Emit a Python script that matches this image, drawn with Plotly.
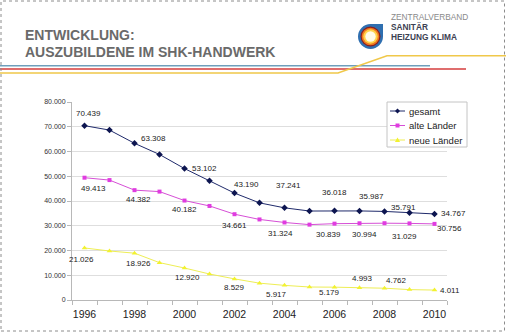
import plotly.graph_objects as go

# ---------------- data ----------------
years = list(range(1996, 2011))
gesamt = [70439, 68650, 63308, 58800, 53102, 48200, 43190, 39250, 37241, 35950, 36018, 35987, 35791, 35300, 34767]
alte = [49413, 48450, 44382, 43800, 40182, 38000, 34661, 32550, 31324, 30450, 30839, 30994, 31029, 30950, 30756]
neue = [21026, 19800, 18926, 15100, 12920, 10500, 8529, 6800, 5917, 5250, 5179, 4993, 4762, 4200, 4011]
label_years = [1996, 1998, 2000, 2002, 2004, 2006, 2007, 2008, 2010]
x_tick_labels = ["1996", "1998", "2000", "2002", "2004", "2006", "2008", "2010"]
y_ticks = [0, 10000, 20000, 30000, 40000, 50000, 60000, 70000, 80000]
title_lines = ["ENTWICKLUNG:", "AUSZUBILDENE IM SHK-HANDWERK"]
logo_lines = ["ZENTRALVERBAND", "SANITÄR", "HEIZUNG KLIMA"]

# ---------------- layout helpers ----------------
W, H = 506, 332
L, R, T, B = 72, 447, 102, 300


def px_x(p):
    return (p - L) / (R - L)


def px_y(p):
    return (B - p) / (B - T)


def de(v):
    return f"{v:,}".replace(",", ".")


FONT = "Liberation Sans, Arial, sans-serif"

fig = go.Figure()

series = [
    ("gesamt", gesamt, "#1f2a6b", "#0d1550", "diamond", 5),
    ("alte Länder", alte, "#d64fd6", "#e03ce0", "square", 4),
    ("neue Länder", neue, "#eeee55", "#f2f230", "triangle-up", 5),
]
for name, vals, lc, mc, sym, ms in series:
    fig.add_trace(go.Scatter(
        x=years, y=vals, name=name, mode="lines+markers",
        line=dict(color=lc, width=1),
        marker=dict(symbol=sym, size=ms, color=mc, line=dict(width=0)),
        showlegend=False,
    ))

# data labels: offsets in pixels (xshift, yshift)
offsets = {
    "gesamt": [(4, 12), (19, 5), (20, 0), (12, 9), (4, 22), (0, 18), (12, 14), (19, 4), (19, 0)],
    "alte Länder": [(9, -11), (4, -9), (0, -9), (0, -11), (-4, -11), (-6, -11), (5, -11), (20, -13), (15, -5)],
    "neue Länder": [(-3, -12), (4, -10), (3, -9), (0, -9), (-8, -9), (-5, -5), (3, 9), (12, 8), (15, 0)],
}
annotations = []
for name, vals, *_ in series:
    for yr, (dx, dy) in zip(label_years, offsets[name]):
        v = vals[years.index(yr)]
        annotations.append(dict(
            x=yr, y=v, xref="x", yref="y", text=de(v), showarrow=False,
            xshift=dx, yshift=dy, font=dict(family=FONT, size=8, color="#222222"),
        ))

# header title
for i, line in enumerate(title_lines):
    annotations.append(dict(
        x=px_x(23), y=px_y(35 + 17 * i), xref="paper", yref="paper",
        xanchor="left", yanchor="middle", text=f"<b>{line}</b>", showarrow=False,
        font=dict(family=FONT, size=14, color="#6a6a6a"),
    ))

# logo text
logo_styles = [("#8a8a8a", False), ("#3c4152", True), ("#3c4152", True)]
for i, (line, (col, bold)) in enumerate(zip(logo_lines, logo_styles)):
    annotations.append(dict(
        x=px_x(389), y=px_y(17 + 10 * i), xref="paper", yref="paper",
        xanchor="left", yanchor="middle",
        text=f"<b>{line}</b>" if bold else line, showarrow=False,
        font=dict(family=FONT, size=8.3, color=col),
    ))

shapes = []


def circle(cx, cy, r, color):
    return dict(type="circle", xref="paper", yref="paper",
                x0=px_x(cx - r), x1=px_x(cx + r), y0=px_y(cy + r), y1=px_y(cy - r),
                fillcolor=color, line=dict(width=0), layer="above")


cx, cy = 370.5, 36.5
shapes.append(dict(type="rect", xref="paper", yref="paper",
                   x0=px_x(cx), x1=px_x(cx + 12.5), y0=px_y(cy), y1=px_y(cy - 12.5),
                   fillcolor="#2f6fb0", line=dict(width=0), layer="above"))
shapes.append(circle(cx, cy, 12.5, "#2f6fb0"))
shapes.append(circle(cx, cy, 10, "#8a1f1f"))
shapes.append(circle(cx, cy, 8.8, "#f07a1e"))
shapes.append(circle(cx, cy, 7.2, "#ffd24a"))
shapes.append(circle(cx, cy, 5.2, "#fffbe8"))

# header lines
shapes.append(dict(type="line", xref="paper", yref="paper",
                   x0=px_x(0), x1=px_x(430), y0=px_y(65.7), y1=px_y(65.7),
                   line=dict(color="#6f9fbc", width=1.6), layer="above"))
shapes.append(dict(type="line", xref="paper", yref="paper",
                   x0=px_x(0), x1=px_x(466), y0=px_y(69), y1=px_y(69),
                   line=dict(color="#d43c3c", width=1.4), layer="above"))
yl_pts = [(0, 73), (338, 73), (387, 55.7), (506, 55.7)]
path = "M " + " L ".join(f"{px_x(a)},{px_y(b)}" for a, b in yl_pts)
shapes.append(dict(type="path", xref="paper", yref="paper", path=path,
                   line=dict(color="#f0c84a", width=1.6), layer="above"))

# dotted frame
shapes.append(dict(type="rect", xref="paper", yref="paper",
                   x0=px_x(1), x1=px_x(504.5), y0=px_y(331), y1=px_y(1),
                   line=dict(color="#8c8c8c", width=1, dash="dot"), layer="above"))

# legend (drawn manually to match the compact reference legend)
shapes.append(dict(type="rect", xref="paper", yref="paper",
                   x0=px_x(387), x1=px_x(467), y0=px_y(147), y1=px_y(102),
                   fillcolor="white", line=dict(color="#c4c4c4", width=1), layer="above"))
for i, (name, vals, lc, mc, sym, ms) in enumerate(series):
    ly = 111 + 14.5 * i
    shapes.append(dict(type="line", xref="paper", yref="paper",
                       x0=px_x(390), x1=px_x(405), y0=px_y(ly), y1=px_y(ly),
                       line=dict(color=lc, width=1), layer="above"))
    mx = 397.5
    if sym == "diamond":
        pts = [(mx, ly - 2.5), (mx + 2.5, ly), (mx, ly + 2.5), (mx - 2.5, ly)]
    elif sym == "square":
        pts = [(mx - 2, ly - 2), (mx + 2, ly - 2), (mx + 2, ly + 2), (mx - 2, ly + 2)]
    else:
        pts = [(mx, ly - 2.5), (mx + 2.6, ly + 2), (mx - 2.6, ly + 2)]
    mpath = "M " + " L ".join(f"{px_x(a)},{px_y(b)}" for a, b in pts) + " Z"
    shapes.append(dict(type="path", xref="paper", yref="paper", path=mpath,
                       fillcolor=mc, line=dict(width=0), layer="above"))
    annotations.append(dict(
        x=px_x(407), y=px_y(ly), xref="paper", yref="paper",
        xanchor="left", yanchor="middle", text=name, showarrow=False,
        font=dict(family=FONT, size=9.5, color="#222222"),
    ))

fig.update_layout(
    width=W, height=H,
    margin=dict(l=L, r=W - R, t=T, b=H - B, pad=0),
    paper_bgcolor="white", plot_bgcolor="white",
    font=dict(family=FONT, color="#222222"),
    showlegend=False,
    annotations=annotations, shapes=shapes,
)
fig.update_xaxes(
    range=[1995.5, 2010.5], tickmode="array",
    tickvals=[int(t) for t in x_tick_labels], ticktext=x_tick_labels,
    ticks="", showgrid=False, showline=True, linecolor="#b8b8b8", linewidth=1,
    tickfont=dict(size=10.5, color="#222222"), zeroline=False,
    ticklabelstandoff=4,
    minor=dict(tickmode="linear", tick0=1995.5, dtick=1, ticks="outside",
               ticklen=4, tickcolor="#b8b8b8", showgrid=False),
)
fig.update_yaxes(
    range=[0, 80000], tickmode="array", tickvals=y_ticks,
    ticktext=[de(v) for v in y_ticks],
    ticks="outside", ticklen=4, tickcolor="#b8b8b8",
    showgrid=True, gridcolor="#dedede", gridwidth=1,
    showline=True, linecolor="#b8b8b8", linewidth=1, zeroline=False,
    tickfont=dict(size=7, color="#333333"),
)

fig.write_html("out.html")
